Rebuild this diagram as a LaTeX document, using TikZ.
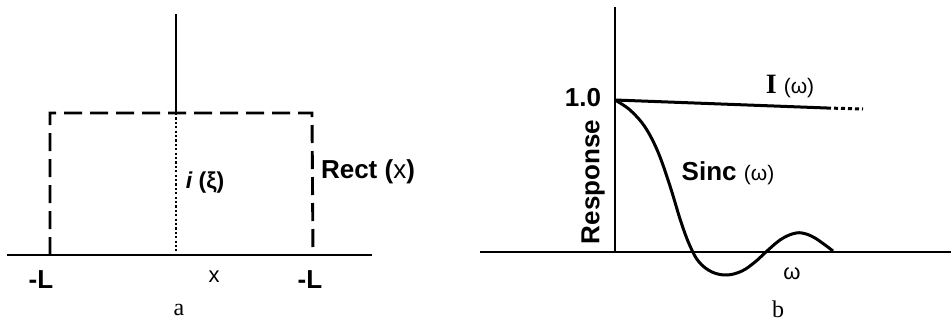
\documentclass[tikz,border=0pt]{standalone}
\usepackage{fontspec}
\setmainfont{Liberation Serif}
\setsansfont{Liberation Sans}
\begin{document}
\begin{tikzpicture}[x=1pt,y=-1pt,
  axisline/.style={line width=2.6pt},
  rectdash/.style={line width=2.9pt, dash pattern=on 18pt off 8pt},
  dotline/.style={line width=1.9pt, dash pattern=on 2.2pt off 2.2pt},
  curve/.style={line width=3pt, line join=round},
  lab/.style={font=\sffamily\bfseries\fontsize{26}{26}\selectfont, inner sep=0pt},
  small/.style={font=\sffamily\fontsize{22}{22}\selectfont, inner sep=0pt},
  captext/.style={font=\rmfamily\fontsize{24}{24}\selectfont, inner sep=0pt}]
\useasboundingbox (0,0) rectangle (951,322);
% ---- panel a ----
\coordinate (aL) at (7,255);
\coordinate (aR) at (372,255);
\coordinate (spTop) at (176,14);
\coordinate (spBot) at (176,113);
\coordinate (spBase) at (176,251);
\coordinate (r1) at (50,255);
\coordinate (r2) at (50,113);
\coordinate (r3) at (312,113);
\coordinate (r4) at (313,255);
\draw[axisline] (aL) -- (aR);
\draw[axisline] (spTop) -- (spBot);
\draw[rectdash] (r1) -- (r2) -- (r3) -- (r4);
\draw[dotline] (spBot) -- (spBase);
\node[lab] (rect) at (368,172) {Rect ({\mdseries x})};
\node[lab, font=\sffamily\bfseries\fontsize{23}{23}\selectfont] (ixi) at (205,183) {{\itshape i} (ξ)};
\node[lab] (mL1) at (41,280) {-L};
\node[lab] (mL2) at (310,280) {-L};
\node[small] (xlab) at (214,277) {x};
\node[captext] (alab) at (179,310) {a};
% ---- panel b ----
\coordinate (bL) at (480,252);
\coordinate (bR) at (951,252);
\coordinate (yTop) at (615,7);
\coordinate (org) at (615,252);
\coordinate (one) at (615,100);
\coordinate (iEnd) at (827,108);
\coordinate (iDot) at (863,109);
\draw[axisline] (bL) -- (bR);
\draw[axisline] (yTop) -- (org);
\draw[curve] (one) -- (iEnd);
\draw[line width=3pt, dash pattern=on 4pt off 3pt] (iEnd) -- (iDot);
\draw[curve] plot[smooth, tension=0.6] coordinates {
  (615,100) (630,110) (645,127) (658,152) (670,186) (681,222) (690,246)
  (699,262) (712,272) (727,275) (742,271) (755,262) (767,251) (780,240)
  (792,234) (802,233) (815,238) (833,251)};
\node[lab] (onelab) at (583,98) {1.0};
\node[lab, rotate=90] (resp) at (593,182) {Response};
\node[lab] (ilab) at (790,87) {\rmfamily\bfseries\fontsize{28}{28}\selectfont I {\sffamily\mdseries\fontsize{21}{21}\selectfont(ω)}};
\node[lab] (sinc) at (728,173) {Sinc {\mdseries\fontsize{21}{21}\selectfont(ω)}};
\node[small] (wlab) at (792,274) {ω};
\node[captext] (blab) at (778,309) {b};
\end{tikzpicture}
\end{document}
